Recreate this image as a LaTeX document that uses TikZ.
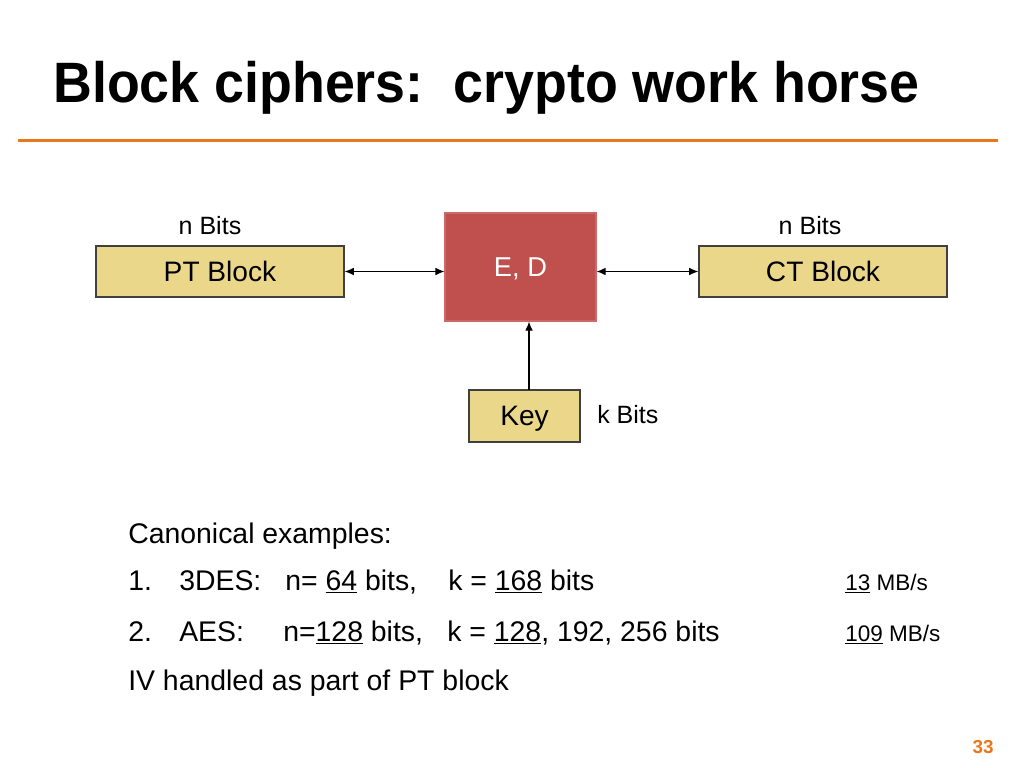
\documentclass[tikz,border=0pt]{standalone}
\usepackage{fontspec}
\setmainfont{Liberation Sans}
\newfontfamily\titlefont[FakeStretch=0.944]{Liberation Sans Bold}
\usepackage{tikz}
\usetikzlibrary{arrows.meta}

\definecolor{slideorange}{RGB}{236,118,28}
\definecolor{boxyellow}{RGB}{235,215,138}
\definecolor{boxred}{RGB}{192,80,77}

\tikzset{
  blockbox/.style={draw=black!75,fill=boxyellow,line width=0.9pt,inner sep=0pt,
    font=\fontsize{20}{24}\selectfont},
  bitlabel/.style={inner sep=0pt,font=\fontsize{17.8}{21}\selectfont},
  bodytext/.style={anchor=base west,inner sep=0pt,font=\fontsize{20.2}{24}\selectfont},
  ratetext/.style={anchor=base west,inner sep=0pt,font=\fontsize{16}{19}\selectfont},
  link/.style={line width=0.8pt,{Latex[length=6.5pt,width=5.5pt]}-{Latex[length=6.5pt,width=5.5pt]}},
}

\begin{document}
\begin{tikzpicture}[x=0.025cm,y=-0.025cm]
        \fill[white] (0,0) rectangle (1024,768);
        % title and rule
        \node[anchor=base west,inner sep=0pt,font=\titlefont\fontsize{40.5}{48}\selectfont]
          (title) at (53,103) {Block ciphers:\ \ crypto work horse};
        \draw[slideorange,line width=2.2pt] (18,140.5) -- (998,140.5);

        % the blocks
        \node[blockbox,minimum width=6.2cm,minimum height=1.275cm] (pt) at (220,271.5) {PT Block};
        \node[blockbox,minimum width=6.2cm,minimum height=1.275cm] (ct) at (823,271.5) {CT Block};
        \node[draw=boxred!85!white,fill=boxred,line width=0.8pt,minimum width=3.775cm,minimum height=2.7cm,
          text=white,text depth=0pt,font=\fontsize{19.4}{23}\selectfont] (ed) at (520.5,267) {E, D};
        \node[blockbox,text depth=0pt,minimum width=2.775cm,minimum height=1.3cm] (key) at (524.5,416) {Key};

        \node[bitlabel] (nbl) at (210,226) {n Bits};
        \node[bitlabel] (nbr) at (810,226) {n Bits};
        \node[bitlabel,anchor=west] (kb) at (597,415) {k Bits};

        % connectors
        \draw[link] (pt.east) -- (pt.east -| ed.west);
        \draw[link] (ed.east |- ct.west) -- (ct.west);
        \coordinate (kin) at (529,390);
        \draw[line width=0.8pt,-{Latex[length=6.5pt,width=5.5pt]}] (kin) -- (kin |- ed.south);

        % examples
        \node[bodytext] (canon) at (128,543) {Canonical examples:};
        \node[bodytext] (one) at (128,590) {1.};
        \node[bodytext] (des) at (179,590) {3DES:};
        \node[bodytext] (desn) at (285,590) {n= \underline{64} bits,};
        \node[bodytext] (desk) at (448,590) {k = \underline{168} bits};
        \node[ratetext] (desr) at (845,590) {\underline{13} MB/s};
        \node[bodytext] (two) at (128,641) {2.};
        \node[bodytext] (aes) at (179,641) {AES:};
        \node[bodytext] (aesn) at (283,641) {n=\underline{128} bits,};
        \node[bodytext] (aesk) at (447,641) {k = \underline{128}, 192, 256 bits};
        \node[ratetext] (aesr) at (845,641) {\underline{109} MB/s};
        \node[bodytext] (iv) at (128,690) {IV handled as part of PT block};

        \node[inner sep=0pt,text=slideorange,font=\bfseries\fontsize{13.4}{16}\selectfont] (pg) at (983,747) {33};
\end{tikzpicture}
\end{document}
